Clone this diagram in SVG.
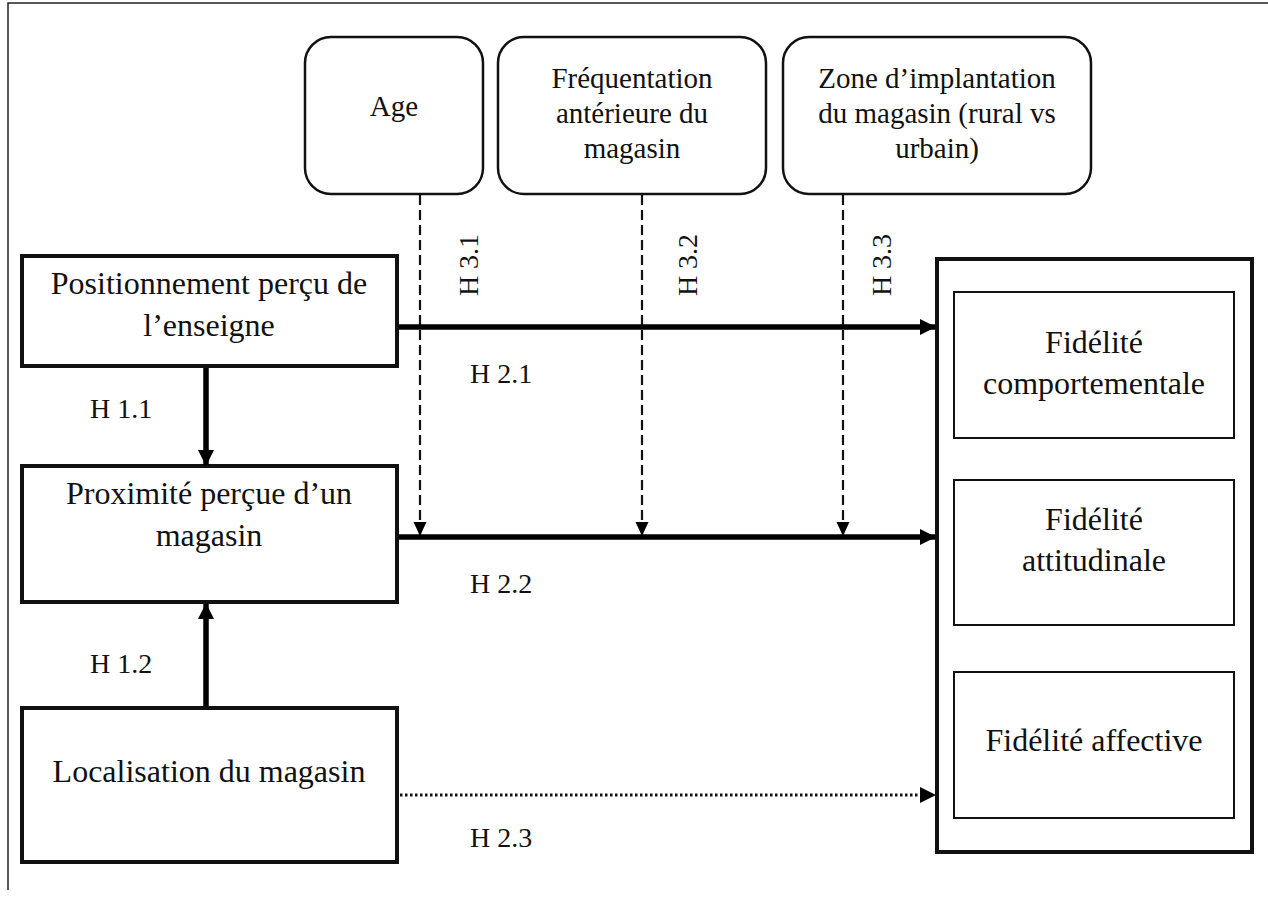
<svg xmlns="http://www.w3.org/2000/svg" width="1268" height="897" viewBox="0 0 1268 897">
<defs>
<style>
text{font-family:"Liberation Serif","Times New Roman",serif;fill:#111;}
.big{font-size:32px;text-anchor:middle;}
.mid{font-size:29px;text-anchor:middle;}
.lbl{font-size:28px;}
.box{fill:#fff;stroke:#111;stroke-width:4;}
.inner{fill:#fff;stroke:#111;stroke-width:2;}
.rbox{fill:#fff;stroke:#111;stroke-width:2.5;}
.solid{stroke:#000;stroke-width:5.5;fill:none;}
.dash{stroke:#111;stroke-width:2.2;stroke-dasharray:10 5;fill:none;}
.dot{stroke:#111;stroke-width:2.8;stroke-dasharray:2.5 2.5;fill:none;}
</style>
<marker id="ah" markerUnits="userSpaceOnUse" markerWidth="16" markerHeight="16" refX="15" refY="8" orient="auto" viewBox="0 0 16 16">
<path d="M0,0 L16,8 L0,16 Z" fill="#000"/>
</marker>
<marker id="ahs" markerUnits="userSpaceOnUse" markerWidth="14" markerHeight="14" refX="14" refY="7" orient="auto" viewBox="0 0 14 14">
<path d="M0,0.5 L14,7 L0,13.5 Z" fill="#000"/>
</marker>
</defs>
<rect width="1268" height="897" fill="#fff"/>
<path d="M8,890 L8,3 L1268,3" fill="none" stroke="#222" stroke-width="1.5"/>

<g id="age">
<rect class="rbox" x="305" y="37" width="178" height="157" rx="26"/>
<text class="mid" x="394" y="116">Age</text>
</g>
<g id="frequentation">
<rect class="rbox" x="498" y="37" width="268" height="157" rx="26"/>
<text class="mid" x="632" y="88">Fréquentation</text>
<text class="mid" x="632" y="123">antérieure du</text>
<text class="mid" x="632" y="158">magasin</text>
</g>
<g id="zone">
<rect class="rbox" x="783" y="37" width="308" height="157" rx="26"/>
<text class="mid" x="937" y="88">Zone d’implantation</text>
<text class="mid" x="937" y="123">du magasin (rural vs</text>
<text class="mid" x="937" y="158">urbain)</text>
</g>

<g id="positionnement">
<rect class="box" x="22" y="256" width="375" height="110"/>
<text class="big" x="209" y="294">Positionnement perçu de</text>
<text class="big" x="209" y="336">l’enseigne</text>
</g>
<g id="proximite">
<rect class="box" x="22" y="466" width="375" height="136"/>
<text class="big" x="209" y="504">Proximité perçue d’un</text>
<text class="big" x="209" y="546">magasin</text>
</g>
<g id="localisation">
<rect class="box" x="22" y="708" width="375" height="154"/>
<text class="big" x="209" y="782">Localisation du magasin</text>
</g>

<g id="fidelite">
<rect class="box" x="937" y="259" width="315" height="593"/>
<g id="comportementale">
<rect class="inner" x="954" y="292" width="280" height="146"/>
<text class="big" x="1094" y="353">Fidélité</text>
<text class="big" x="1094" y="394">comportementale</text>
</g>
<g id="attitudinale">
<rect class="inner" x="954" y="480" width="280" height="145"/>
<text class="big" x="1094" y="530">Fidélité</text>
<text class="big" x="1094" y="571">attitudinale</text>
</g>
<g id="affective">
<rect class="inner" x="954" y="672" width="280" height="146"/>
<text class="big" x="1094" y="751">Fidélité affective</text>
</g>
</g>

<g id="connectors">
<line class="dash" x1="420" y1="195" x2="420" y2="536" marker-end="url(#ahs)"/>
<line class="dash" x1="642" y1="195" x2="642" y2="536" marker-end="url(#ahs)"/>
<line class="dash" x1="843" y1="195" x2="843" y2="536" marker-end="url(#ahs)"/>
<line class="solid" x1="399" y1="327" x2="935" y2="327" marker-end="url(#ah)"/>
<line class="solid" x1="399" y1="537" x2="935" y2="537" marker-end="url(#ah)"/>
<line class="dot" x1="400" y1="795" x2="935" y2="795" marker-end="url(#ah)"/>
<line class="solid" x1="206" y1="368" x2="206" y2="465" marker-end="url(#ah)"/>
<line class="solid" x1="206" y1="706" x2="206" y2="604" marker-end="url(#ah)"/>
<text class="lbl" x="90" y="418">H 1.1</text>
<text class="lbl" x="90" y="673">H 1.2</text>
<text class="lbl" x="470" y="383">H 2.1</text>
<text class="lbl" x="470" y="593">H 2.2</text>
<text class="lbl" x="470" y="847">H 2.3</text>
<text class="lbl" text-anchor="middle" transform="translate(478,265) rotate(-90)">H 3.1</text>
<text class="lbl" text-anchor="middle" transform="translate(697,265) rotate(-90)">H 3.2</text>
<text class="lbl" text-anchor="middle" transform="translate(891,265) rotate(-90)">H 3.3</text>
</g>
</svg>
